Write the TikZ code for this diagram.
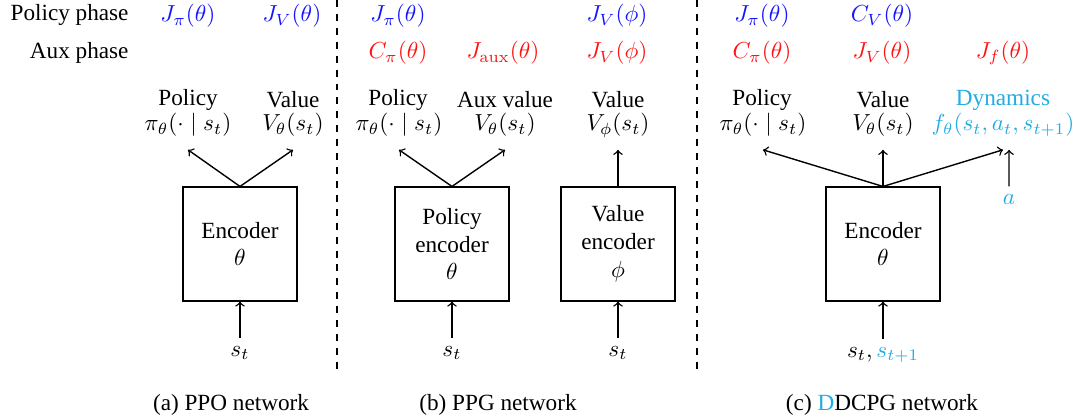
\documentclass[tikz,border=0pt]{standalone}
\usepackage[no-math]{fontspec}
\setmainfont{Liberation Serif}
\definecolor{polblue}{RGB}{20,20,255}
\definecolor{auxred}{RGB}{255,20,20}
\definecolor{dyncyan}{RGB}{35,172,228}

\begin{document}
\begin{tikzpicture}[x=0.431pt,y=-0.431pt,
  enc/.style={draw, line width=0.6pt, minimum width=49pt, minimum height=49pt,
              align=center, inner sep=0pt},
  title/.style={inner sep=0pt},
  head/.style={inner xsep=1pt, inner ysep=5.5pt, text height=7.5pt, text depth=2.5pt},
  inp/.style={inner sep=3.5pt},
  flow/.style={->, line width=0.6pt},
  sep/.style={dashed, line width=0.5pt},
  pobj/.style={inner sep=0pt, text=polblue},
  aobj/.style={inner sep=0pt, text=auxred},
  subcap/.style={inner sep=0pt}
]
\useasboundingbox (0,0) rectangle (1083,419);

% phase row labels
\node[title, anchor=east] (rowp) at (129,15) {Policy phase};
\node[title, anchor=east] (rowa) at (129,53) {Aux phase};

% panel separators
\coordinate (s1t) at (337,0);   \coordinate (s1b) at (337,375);
\coordinate (s2t) at (697,0);   \coordinate (s2b) at (697,375);
\draw[sep] (s1t) -- (s1b);
\draw[sep] (s2t) -- (s2b);

% ---------- (a) PPO ----------
\node[pobj] (aJp) at (188,16) {$J_\pi(\theta)$};
\node[pobj] (aJv) at (292,16) {$J_V(\theta)$};
\node[title] (aPt) at (188,100) {Policy};
\node[title] (aVt) at (293,100) {Value};
\node[head] (aP) at (188,125) {$\pi_\theta(\cdot\mid s_t)$};
\node[head] (aV) at (293,125) {$V_\theta(s_t)$};
\node[enc] (aE) at (240,244) {Encoder\\$\theta$};
\node[inp] (aS) at (240,353) {$s_t$};
\draw[flow] (aE.north) -- (aP.south);
\draw[flow] (aE.north) -- (aV.south);
\draw[flow] (aS) -- (aE);
\node[subcap] (aC) at (231,405) {(a) PPO network};

% ---------- (b) PPG ----------
\node[pobj] (bJp) at (398,16) {$J_\pi(\theta)$};
\node[pobj] (bJv) at (617,16) {$J_V(\phi)$};
\node[aobj] (bCp) at (398,53) {$C_\pi(\theta)$};
\node[aobj] (bJa) at (503,53) {$J_{\mathrm{aux}}(\theta)$};
\node[aobj] (bJv2) at (617,53) {$J_V(\phi)$};
\node[title] (bPt) at (398,100) {Policy};
\node[title] (bAt) at (505,100) {Aux value};
\node[title] (bVt) at (618,100) {Value};
\node[head] (bP) at (399,125) {$\pi_\theta(\cdot\mid s_t)$};
\node[head] (bA) at (505,125) {$V_\theta(s_t)$};
\node[head] (bV) at (618,125) {$V_\phi(s_t)$};
\node[enc] (bE1) at (452,244) {Policy\\encoder\\$\theta$};
\node[enc] (bE2) at (618,244) {Value\\encoder\\$\phi$};
\node[inp] (bS1) at (452,353) {$s_t$};
\node[inp] (bS2) at (618,353) {$s_t$};
\draw[flow] (bE1.north) -- (bP.south);
\draw[flow] (bE1.north) -- (bA.south);
\draw[flow] (bE2.north) -- (bV.south);
\draw[flow] (bS1) -- (bE1);
\draw[flow] (bS2) -- (bE2);
\node[subcap] (bC) at (498,405) {(b) PPG network};

% ---------- (c) DDCPG ----------
\node[pobj] (cJp) at (762,16) {$J_\pi(\theta)$};
\node[pobj] (cCv) at (882,16) {$C_V(\theta)$};
\node[aobj] (cCp) at (762,53) {$C_\pi(\theta)$};
\node[aobj] (cJv) at (882,53) {$J_V(\theta)$};
\node[aobj] (cJf) at (1003,53) {$J_f(\theta)$};
\node[title] (cPt) at (762,100) {Policy};
\node[title] (cVt) at (883,100) {Value};
\node[title, text=dyncyan] (cDt) at (1003,100) {Dynamics};
\node[head] (cP) at (763,125) {$\pi_\theta(\cdot\mid s_t)$};
\node[head] (cV) at (883,125) {$V_\theta(s_t)$};
\node[head, text=dyncyan] (cD) at (1003,125) {$f_\theta(s_t,a_t,s_{t+1})$};
\node[enc] (cE) at (883,244) {Encoder\\$\theta$};
\node[inp, text=dyncyan] (cA) at (1009,200) {$a$};
\node[inp] (cS) at (883,355) {$s_t,\textcolor{dyncyan}{s_{t+1}}$};
\draw[flow] (cE.north) -- (cP.south);
\draw[flow] (cE.north) -- (cV.south);
\draw[flow] (cE.north) -- (cD.south);
\draw[flow] (cA.north) -- ([xshift=2.6pt]cD.south);
\draw[flow] (cS) -- (cE);
\node[subcap] (cC) at (882,405) {(c) \textcolor{dyncyan}{D}DCPG network};
\end{tikzpicture}
\end{document}
